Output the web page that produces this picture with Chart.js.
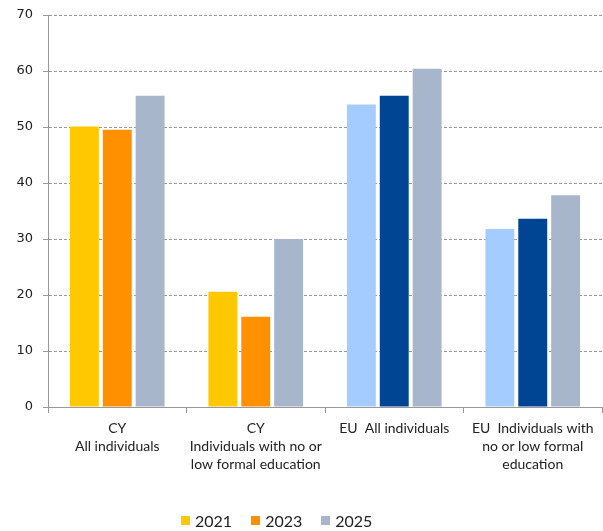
<!DOCTYPE html>
<html>
<head>
<meta charset="utf-8">
<script src="https://cdn.jsdelivr.net/npm/chart.js@4/dist/chart.umd.min.js"></script>
<style>
  html, body { margin: 0; padding: 0; background: #fff; }
  #wrap { position: relative; width: 603px; height: 531px; }
  #legend { position: absolute; left: 181px; top: 511px; display: flex; font: 16px Lato, sans-serif; color: #222; }
  #legend span.item { display: flex; align-items: center; margin-right: 19px; }
  #legend span.box { width: 9px; height: 9px; margin-right: 5px; display: inline-block; }
</style>
</head>
<body>
<div id="wrap">
  <canvas id="chart" width="603" height="531"></canvas>
  <div id="legend"></div>
</div>
<script>
const categories = [
  ['CY', 'All individuals'],
  ['CY', 'Individuals with no or', 'low formal education'],
  'EU  All individuals',
  ['EU  Individuals with', 'no or low formal', 'education']
];
const years = ['2021', '2023', '2025'];
const values2021 = [50.1, 20.6, 54.0, 31.8];
const values2023 = [49.5, 16.1, 55.6, 33.6];
const values2025 = [55.6, 30.0, 60.4, 37.8];
const yTicks = [0, 10, 20, 30, 40, 50, 60, 70];

// CY bars use yellow/orange, EU bars blue shades; 2025 is grey everywhere
const colors2021 = ['#FFC800', '#FFC800', '#A5CCFF', '#A5CCFF'];
const colors2023 = ['#FF9100', '#FF9100', '#004494', '#004494'];
const colors2025 = ['#A8B6CC', '#A8B6CC', '#A8B6CC', '#A8B6CC'];

const seriesData = [values2021, values2023, values2025];
const seriesColors = [colors2021, colors2023, colors2025];

const datasets = years.map((y, i) => ({
  label: y,
  data: seriesData[i],
  backgroundColor: seriesColors[i],
  borderWidth: 0,
  categoryPercentage: 0.712,
  barPercentage: 0.88
}));

const ctx = document.getElementById('chart').getContext('2d');
new Chart(ctx, {
  type: 'bar',
  data: { labels: categories, datasets },
  options: {
    responsive: false,
    animation: false,
    layout: { padding: { top: 15, right: 1, left: 0, bottom: 0 } },
    plugins: { legend: { display: false }, tooltip: { enabled: false } },
    scales: {
      x: {
        grid: { display: true, drawOnChartArea: false, color: '#999', tickLength: 6 },
        border: { color: '#999' },
        ticks: { padding: 7, color: '#222', font: { family: 'Lato', size: 14, lineHeight: 1.28 }, maxRotation: 0, autoSkip: false },
        afterFit: s => { s.height = 124; }
      },
      y: {
        min: 0,
        max: 70,
        afterBuildTicks: s => { s.ticks = yTicks.map(v => ({ value: v })); },
        grid: { color: '#999', tickLength: 5 },
        border: { color: '#999', dash: [3, 2] },
        ticks: { padding: 10, color: '#222', font: { family: 'DejaVu Sans', size: 13 } },
        afterFit: s => { s.width = 48; s.paddingTop = 0; s.paddingBottom = 0; }
      }
    }
  }
});

// legend shows the CY colours only
const legendEl = document.getElementById('legend');
years.forEach((y, i) => {
  const item = document.createElement('span');
  item.className = 'item';
  item.innerHTML = `<span class="box" style="background:${seriesColors[i][0]}"></span>${y}`;
  legendEl.appendChild(item);
});
</script>
</body>
</html>
